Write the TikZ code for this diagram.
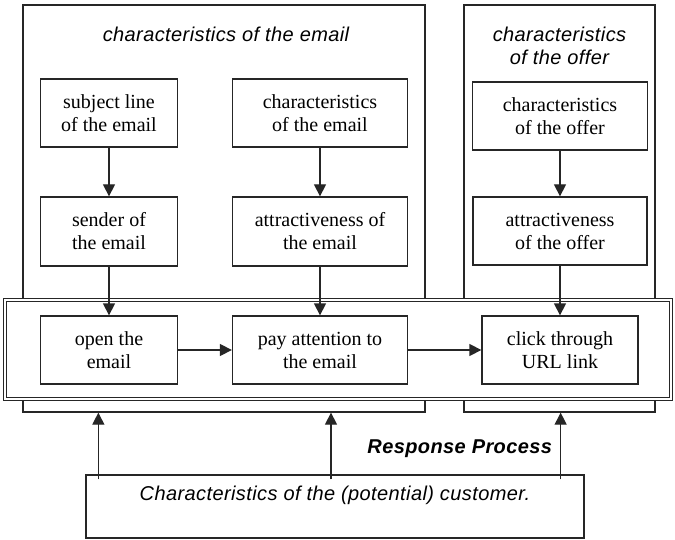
\documentclass[tikz,border=0pt]{standalone}
\usepackage{fontspec}
\setmainfont{Liberation Serif}
\newfontfamily\headfont[LetterSpace=2]{Liberation Sans}
\usetikzlibrary{arrows.meta,positioning}

\begin{document}
\begin{tikzpicture}[
    x=1pt,y=-1pt,
    line width=1.3pt,
    box/.style={draw=black!85,fill=white,align=center,inner sep=0pt,font=\fontsize{20}{23}\selectfont},
    narrowbox/.style={box,minimum width=137pt,minimum height=68pt},
    widebox/.style={box,minimum width=175pt,minimum height=68pt},
    group/.style={draw=black!85,minimum height=407pt,inner sep=0pt},
    head/.style={font=\headfont\itshape\fontsize{20}{23}\selectfont,align=center},
    arrow/.style={-{Triangle[length=12pt,width=12pt]},draw=black!85}
  ]
    \useasboundingbox (0,0) rectangle (675,540);
    % the two groups of characteristics
    \node[group,minimum width=402pt] (emailgroup) at (224,208.5) {};
    \node[group,minimum width=191pt] (offergroup) at (559.5,208.5) {};
    \node[head] (emailhead) at (226,34) {characteristics of the email};
    \node[head] (offerhead) at (559.5,46) {characteristics\\of the offer};
    \node[narrowbox] (subject) at (109,113) {subject line\\of the email};
    \node[widebox] (emailchar) at (320,113) {characteristics\\of the email};
    \node[widebox] (offerchar) at (560,116) {characteristics\\of the offer};
    \node[narrowbox,minimum height=69pt] (sender) at (109,231.5) {sender of\\the email};
    \node[widebox,minimum height=69pt] (emailattr) at (320,231.5) {attractiveness of\\the email};
    \node[widebox,minimum width=174pt] (offerattr) at (560,231) {attractiveness\\of the offer};
    % response process
    \node[draw=black!85,fill=white,double=white,double distance=1.8pt,line width=1pt,
          minimum width=666pt,minimum height=99pt,inner sep=0pt] (process) at (338,349.5) {};
    \node[narrowbox] (open) at (109,350) {open the\\email};
    \node[widebox] (pay) at (320,350) {pay attention to\\the email};
    \node[box,minimum width=156pt,minimum height=68pt] (click) at (560,350) {click through\\URL link};
    \node[font=\headfont\bfseries\itshape\fontsize{20}{23}\selectfont,anchor=east] (resp) at (556,449) {Response Process};
    \node[draw=black!85,minimum width=498pt,minimum height=63pt,inner sep=0pt,
          text height=14pt,text depth=27pt,head] (customer) at (335,506.5) {Characteristics of the (potential) customer.};
    \draw[arrow] (subject)--(sender);
    \draw[arrow] (emailchar)--(emailattr);
    \draw[arrow] (offerchar)--(offerattr);
    \draw[arrow] (sender)--(open);
    \draw[arrow] (emailattr)--(pay);
    \draw[arrow] (offerattr)--(click);
    \draw[arrow] (open)--(pay);
    \draw[arrow] (pay)--(click);
    \draw[arrow] ([xshift=13pt,yshift=-5pt]customer.north west) -- ([xshift=13pt]customer.north west |- emailgroup.south);
    \draw[arrow] ([xshift=-4pt,yshift=-5pt]customer.north) -- ([xshift=-4pt]customer.north |- emailgroup.south);
    \draw[arrow] ([xshift=-24pt,yshift=-5pt]customer.north east) -- ([xshift=-24pt]customer.north east |- offergroup.south);
  \end{tikzpicture}
\end{document}
